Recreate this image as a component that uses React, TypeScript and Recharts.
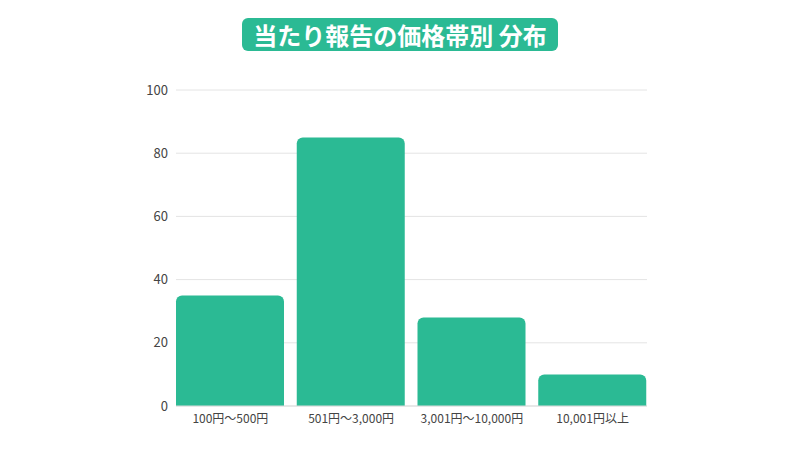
import React from 'react';
import { BarChart, Bar, XAxis, YAxis, CartesianGrid } from 'recharts';

const categories = ['100円〜500円', '501円〜3,000円', '3,001円〜10,000円', '10,001円以上'];
const counts = [35, 85, 28, 10];
const yTicks = [0, 20, 40, 60, 80, 100];

const data = categories.map((name, i) => ({ name, count: counts[i] }));

const GREEN = '#2bba94';
const FONT = '"Noto Sans CJK JP", "Noto Sans", sans-serif';

export default function App() {
  return (
    <div style={{ position: 'absolute', left: 0, top: 0, width: 800, height: 450, background: '#fff', fontFamily: FONT }}>
      <div
        style={{
          position: 'absolute',
          left: 242,
          top: 18,
          width: 316,
          height: 33,
          background: GREEN,
          borderRadius: 6,
          color: '#fff',
          fontWeight: 700,
          fontSize: 24,
          lineHeight: '33px',
          textAlign: 'center',
          whiteSpace: 'nowrap',
        }}
      >
        当たり報告の価格帯別 分布
      </div>
      <BarChart
        width={800}
        height={450}
        data={data}
        margin={{ top: 90, right: 153, bottom: 14, left: 130 }}
      >
        <CartesianGrid vertical={false} stroke="#e4e4e4" />
        <XAxis
          dataKey="name"
          height={30}
          padding={{ left: -6, right: -6 }}
          tickLine={false}
          axisLine={{ stroke: '#dddddd' }}
          tick={{ fill: '#444', fontSize: 12, fontFamily: FONT }}
          interval={0}
        />
        <YAxis
          width={46}
          domain={[0, 100]}
          ticks={yTicks}
          tickLine={false}
          axisLine={false}
          tick={{ fill: '#444', fontSize: 13, fontFamily: FONT }}
        />
        <Bar dataKey="count" fill={GREEN} barSize={108} radius={[6, 6, 0, 0]} isAnimationActive={false} />
      </BarChart>
    </div>
  );
}
